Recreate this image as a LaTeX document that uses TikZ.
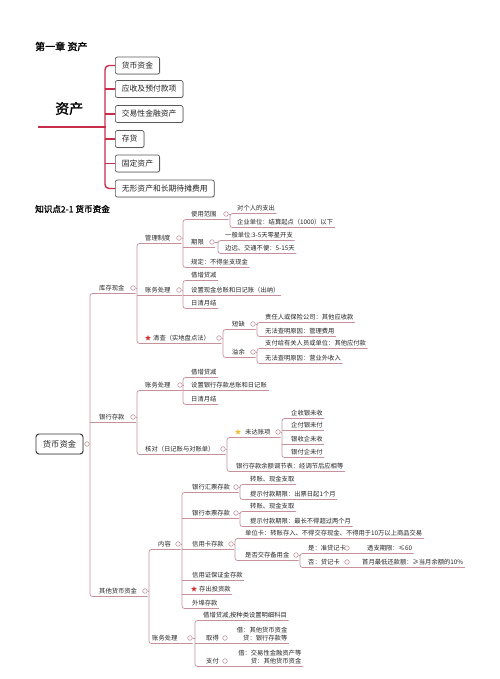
\documentclass[tikz,border=0pt]{standalone}
\usepackage{fontspec}
\newfontfamily\cjk{Noto Sans CJK SC}
\newfontfamily\cjkb[FakeBold=1.5]{Noto Sans CJK SC}
\usetikzlibrary{shapes.geometric,shadows}
\definecolor{lc}{RGB}{198,145,155}
\definecolor{dc}{RGB}{185,130,140}
\definecolor{rc}{RGB}{200,45,75}
\definecolor{tc}{RGB}{35,35,35}
\definecolor{sred}{RGB}{215,45,55}
\definecolor{syel}{RGB}{240,190,40}
\newcommand\mm[4]{\node[t] (#1) at (#2-1.5,#3) {#4};\coordinate (#1-u) at (#1.east |- 0,#3+5.5);}
\newcommand\pc[3]{\node[dot] (#1-c) at (#1 -| #2,0) {};\coordinate (#1-u) at (#1-u -| #2+2.5,0);\draw[ln] (#1-c.east) -- (#1-c -| #3,0);}
\newcommand\grp[3]{\draw[ln,rounded corners=2.5pt] (#2-u) -- (#2-u -| #1,0) -- (#3-u -| #1,0) -- (#3-u);}
\newcommand\midl[2]{\draw[ln] (#2-u -| #1,0) -- (#2-u);}
\begin{document}
\begin{tikzpicture}[x=1pt,y=-1pt,
 t/.style={font=\cjk\fontsize{6.3}{8.5}\selectfont, text=tc, inner xsep=1.5pt, inner ysep=0pt, anchor=west},
 ln/.style={draw=lc, line width=0.7pt},
 dot/.style={circle, draw=dc, fill=white, line width=0.5pt, inner sep=0pt, minimum size=4.6pt},
 bx/.style={draw=black!65, rounded corners=2pt, line width=0.7pt, fill=white, font=\cjk\fontsize{7.8}{9}\selectfont, text=tc, minimum height=17pt, inner xsep=6.5pt, anchor=west, drop shadow={shadow xshift=0.7pt, shadow yshift=-0.7pt, opacity=0.35}},
 rl/.style={draw=rc, line width=1.4pt},
 starr/.style={star, star points=5, star point ratio=2.3, fill=sred, inner sep=0pt, minimum size=6pt},
]
\useasboundingbox (0,0) rectangle (499,679);
% ---------- top part ----------
\node[font=\cjkb\fontsize{10}{12}\selectfont, anchor=west, inner sep=0pt, text=black] (ch) at (35,46.5) {第一章 资产};
\node[font=\cjkb\fontsize{14}{16}\selectfont, anchor=west, inner sep=0pt, text=black] (zc) at (55,108.5) {资产};
\node[bx] (b1) at (115,65.5) {货币资金};
\node[bx] (b2) at (115,89) {应收及预付款项};
\node[bx] (b3) at (115,114) {交易性金融资产};
\node[bx] (b4) at (115,139) {存货};
\node[bx] (b5) at (115,163.5) {固定资产};
\node[bx] (b6) at (115,188.5) {无形资产和长期待摊费用};
\draw[rl, rounded corners=4pt] (b1.west) -- (b1.west -| 105,0) -- (b6.west -| 105,0) -- (b6.west);
\foreach \b in {b2,b3,b4,b5} \draw[rl] (\b.west -| 105,0) -- (\b.west);
\coordinate (ml) at (38,127);
\draw[draw=rc, line width=2.6pt] (ml) -- (ml -| 105.7,0);
\node[font=\cjkb\fontsize{8.6}{10}\selectfont, anchor=west, inner sep=0pt, text=black] (kd) at (35,209) {知识点2-1 货币资金};
% ---------- mind map ----------
\node[draw=black!80, rounded corners=3pt, line width=0.9pt, fill=white, font=\cjk\fontsize{8.3}{10}\selectfont, text=tc, minimum width=47pt, minimum height=20pt, drop shadow={shadow xshift=0.7pt, shadow yshift=-0.7pt, opacity=0.35}] (root) at (59.5,444) {货币资金};
\node[dot] (root-c) at (87,444) {};
\mm{kc}{99}{288}{库存现金}
\mm{yh}{99}{417}{银行存款}
\mm{qt}{99}{591}{其他货币资金}
\mm{gl}{145}{238}{管理制度}
\mm{zw}{145}{290}{账务处理}
\mm{qc}{153}{338}{清查（实地盘点法）}
\mm{sy}{191}{214}{使用范围}
\mm{qx}{191}{242}{期限}
\mm{gd}{191}{262}{规定：不得坐支现金}
\mm{sya}{237}{208}{对个人的支出}
\mm{syb}{237}{222}{企业单位：结算起点（1000）以下}
\mm{qxa}{225}{235}{一般单位:3-5天零星开支}
\mm{qxb}{225}{248}{边远、交通不便：5-15天}
\mm{zwa}{191}{275}{借增贷减}
\mm{zwb}{191}{290}{设置现金总账和日记账（出纳）}
\mm{zwc}{191}{303}{日清月结}
\mm{dq}{232}{324}{短缺}
\mm{yy}{232}{352}{溢余}
\mm{dqa}{265}{317}{责任人或保险公司：其他应收款}
\mm{dqb}{265}{331}{无法查明原因：管理费用}
\mm{yya}{265}{343}{支付给有关人员或单位：其他应付款}
\mm{yyb}{265}{358}{无法查明原因：营业外收入}
\mm{zb}{145}{385}{账务处理}
\mm{hd}{145}{449}{核对（日记账与对账单）}
\mm{zba}{191}{372}{借增贷减}
\mm{zbb}{191}{385}{设置银行存款总账和日记账}
\mm{zbc}{191}{399}{日清月结}
\mm{wd}{245}{432}{未达账项}
\mm{tj}{236}{466}{银行存款余额调节表：经调节后应相等}
\mm{wda}{291}{413}{企收银未收}
\mm{wdb}{291}{425}{企付银未付}
\mm{wdc}{291}{439}{银收企未收}
\mm{wdd}{291}{452}{银付企未付}
\mm{nr}{158}{544}{内容}
\mm{zq}{152}{638}{账务处理}
\mm{hp}{192}{487}{银行汇票存款}
\mm{bp}{192}{513}{银行本票存款}
\mm{xk}{192}{544}{信用卡存款}
\mm{xz}{192}{575}{信用证保证金存款}
\mm{cc}{199}{589}{存出投资款}
\mm{wb}{192}{603}{外埠存款}
\mm{hpa}{250}{479}{转账、现金支取}
\mm{hpb}{250}{494}{提示付款期限：出票日起1个月}
\mm{bpa}{250}{506}{转账、现金支取}
\mm{bpb}{250}{521}{提示付款期限：最长不得超过两个月}
\mm{xka}{245}{533}{单位卡：转账存入、不得交存现金、不得用于10万以上商品交易}
\mm{xkb}{245}{555}{是否交存备用金}
\mm{sa}{308}{548}{是：准贷记卡}
\mm{sb}{308}{562}{否：贷记卡}
\mm{tz}{367}{548}{透支期限：≤60}
\mm{hk}{362}{562}{首月最低还款额：≥当月余额的10\%}
\mm{zqa}{203}{615}{借增贷减,按种类设置明细科目}
\mm{qd}{206}{638}{取得}
\mm{zf}{206}{661}{支付}
\node[t, align=right, anchor=south east] (qdx) at (289,641.5) {借：其他货币资金\\贷：银行存款等};
\node[t, align=right, anchor=south east] (zfx) at (303,664.5) {借：交易性金融资产等\\贷：其他货币资金};
% stars
\node[starr] (qcs) at (148,338) {};
\node[starr] (ccs) at (194,589) {};
\node[starr, fill=syel] (wds) at (238,432) {};
% collapse circles
\pc{kc}{133}{137}
\pc{yh}{133}{137}
\pc{qt}{145}{149}
\pc{gl}{179}{183}
\pc{zw}{179}{183}
\pc{qc}{219}{223}
\pc{sy}{226}{230}
\pc{qx}{212}{218}
\pc{dq}{253}{257}
\pc{yy}{253}{257}
\pc{zb}{180}{183}
\pc{hd}{223}{227}
\pc{wd}{278}{282}
\pc{nr}{178}{182}
\pc{zq}{190}{195}
\pc{hp}{236}{240}
\pc{bp}{236}{240}
\pc{xk}{231}{235}
\pc{xkb}{296}{300}
\node[dot] (sa-c) at (sa -| 347,0) {};
\node[dot] (sb-c) at (sb -| 347,0) {};
\node[dot] (qd-c) at (qd -| 225,0) {};
\node[dot] (zf-c) at (zf -| 225,0) {};
\coordinate (sa-u) at (tz-u);
\coordinate (sb-u) at (hk-u);
\coordinate (qd-u) at (qdx.east |- qd-u);
\coordinate (zf-u) at (zfx.east |- zf-u);
% branches
\grp{90}{kc}{qt} \midl{90}{yh}
\grp{137}{gl}{qc} \midl{137}{zw}
\grp{183}{sy}{gd} \midl{183}{qx}
\grp{230}{sya}{syb}
\grp{218}{qxa}{qxb}
\grp{183}{zwa}{zwc} \midl{183}{zwb}
\grp{223}{dq}{yy}
\grp{257}{dqa}{dqb}
\grp{257}{yya}{yyb}
\grp{137}{zb}{hd}
\grp{183}{zba}{zbc} \midl{183}{zbb}
\grp{227}{wd}{tj}
\grp{282}{wda}{wdd} \midl{282}{wdb} \midl{282}{wdc}
\grp{149}{nr}{zq}
\grp{182}{hp}{wb} \midl{182}{bp} \midl{182}{xk} \midl{182}{xz} \midl{182}{cc}
\grp{240}{hpa}{hpb}
\grp{240}{bpa}{bpb}
\grp{235}{xka}{xkb}
\grp{300}{sa}{sb}
\grp{195}{zqa}{zf} \midl{195}{qd}
\end{tikzpicture}
\end{document}
